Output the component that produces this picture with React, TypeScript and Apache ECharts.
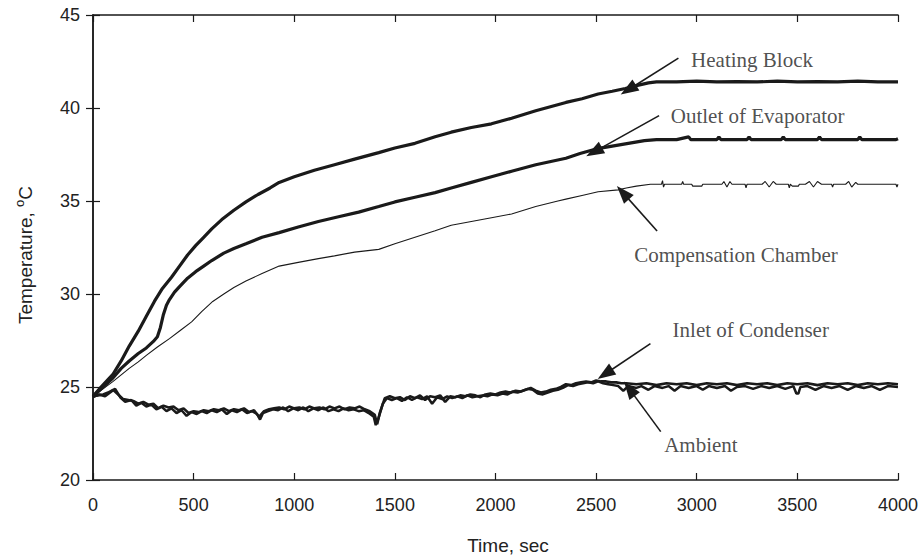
import React, { useEffect, useRef } from "react";
import * as echarts from "echarts";

// ---- axis settings ----
const xMin = 0, xMax = 4000, xStep = 500;
const yMin = 20, yMax = 45, yStep = 5;
const xTitle = "Time, sec";
const yTitle = "Temperature, {sup|o}C";

// ---- series data [time (s), temperature (°C)] ----
const heatingBlock: number[][] = [
  [0, 24.5], [40, 25.0], [100, 25.7], [140, 26.4], [180, 27.2], [225, 28.0], [265, 28.8], [305, 29.6],
  [345, 30.3], [390, 30.9], [430, 31.5], [470, 32.1], [510, 32.6], [550, 33.05], [590, 33.5], [640, 34.0],
  [700, 34.5], [760, 34.95], [820, 35.35], [880, 35.7], [925, 36.0], [1000, 36.3], [1100, 36.65],
  [1200, 36.95], [1300, 37.25], [1420, 37.6], [1500, 37.85], [1600, 38.1], [1700, 38.45], [1780, 38.7],
  [1880, 38.95], [1980, 39.15], [2080, 39.45], [2200, 39.85], [2350, 40.3], [2430, 40.5], [2510, 40.75],
  [2580, 40.9], [2645, 41.05], [2700, 41.2], [2760, 41.35], [2800, 41.4], [2900, 41.4], [3000, 41.45],
  [3100, 41.4], [3200, 41.42], [3300, 41.4], [3400, 41.45], [3500, 41.4], [3600, 41.42], [3700, 41.4],
  [3800, 41.45], [3900, 41.4], [4000, 41.4],
];

const outletEvaporator: number[][] = [
  [0, 24.5], [50, 25.0], [100, 25.5], [140, 26.0], [180, 26.4], [225, 26.8], [265, 27.1], [300, 27.45],
  [320, 27.7], [335, 28.2], [350, 28.9], [365, 29.4], [380, 29.7], [405, 30.1], [430, 30.4], [470, 30.85],
  [510, 31.2], [550, 31.5], [590, 31.8], [650, 32.2], [700, 32.45], [760, 32.7], [840, 33.05], [925, 33.3],
  [1020, 33.6], [1120, 33.9], [1220, 34.15], [1320, 34.4], [1420, 34.7], [1500, 34.95], [1600, 35.2],
  [1700, 35.45], [1780, 35.7], [1880, 36.0], [1980, 36.3], [2080, 36.6], [2200, 36.95], [2350, 37.3],
  [2420, 37.55], [2500, 37.8], [2580, 37.95], [2660, 38.1], [2740, 38.25], [2800, 38.3], [2900, 38.3],
  [2960, 38.45], [2970, 38.3], [3100, 38.3], [3110, 38.45], [3120, 38.3], [3250, 38.3], [3260, 38.45],
  [3270, 38.3], [3420, 38.3], [3430, 38.45], [3440, 38.3], [3600, 38.3], [3610, 38.45], [3620, 38.3],
  [3800, 38.3], [3810, 38.45], [3820, 38.3], [3990, 38.3], [4000, 38.35],
];

const compensationChamber: number[][] = [
  [0, 24.5], [50, 24.9], [100, 25.3], [140, 25.65], [180, 26.0], [225, 26.35], [265, 26.7], [320, 27.15],
  [380, 27.6], [435, 28.05], [490, 28.5], [540, 29.05], [595, 29.6], [650, 30.0], [700, 30.35], [760, 30.7],
  [840, 31.1], [925, 31.5], [1020, 31.7], [1120, 31.9], [1200, 32.05], [1300, 32.25], [1420, 32.4],
  [1500, 32.7], [1600, 33.05], [1700, 33.4], [1780, 33.7], [1880, 33.9], [1980, 34.1], [2080, 34.3],
  [2200, 34.7], [2310, 35.0], [2350, 35.1], [2430, 35.3], [2510, 35.5], [2610, 35.6], [2650, 35.7],
  [2700, 35.8], [2770, 35.9], [2825, 35.9], [2830, 36.1], [2835, 35.75], [2840, 35.9], [2925, 35.9],
  [2930, 36.05], [2935, 35.9], [2975, 35.9], [2980, 35.8], [3025, 35.8], [3030, 35.9], [3125, 35.9],
  [3135, 36.05], [3150, 35.75], [3165, 36.05], [3175, 35.9], [3240, 35.9], [3245, 35.7], [3250, 35.9],
  [3325, 35.9], [3340, 36.05], [3360, 35.75], [3380, 36.05], [3395, 35.9], [3455, 35.9], [3460, 35.7],
  [3465, 35.9], [3475, 35.8], [3505, 35.8], [3510, 35.9], [3540, 35.9], [3560, 36.05], [3580, 35.75],
  [3600, 36.05], [3620, 35.9], [3670, 35.9], [3675, 35.75], [3680, 35.9], [3740, 35.9], [3755, 36.05],
  [3770, 35.75], [3790, 36.0], [3800, 35.9], [3990, 35.9], [3995, 35.75], [4000, 35.9],
];

const inletCondenser: number[][] = [
  [0, 24.5], [25, 24.55], [50, 24.6], [75, 24.7], [100, 24.85], [125, 24.6], [150, 24.35], [175, 24.3],
  [200, 24.25], [225, 24.1], [250, 24.2], [275, 24.05], [300, 24.1], [325, 23.85], [350, 24.0], [375, 23.9],
  [400, 23.95], [425, 23.75], [450, 23.85], [475, 23.6], [500, 23.7], [525, 23.65], [550, 23.75], [575, 23.7],
  [600, 23.8], [625, 23.75], [650, 23.85], [675, 23.7], [700, 23.8], [725, 23.75], [750, 23.85], [775, 23.65],
  [800, 23.75], [825, 23.4], [850, 23.7], [875, 23.8], [900, 23.85], [925, 23.9], [950, 23.8], [975, 23.95],
  [1000, 23.85], [1025, 23.9], [1050, 23.8], [1075, 23.95], [1100, 23.85], [1125, 23.9], [1150, 23.8],
  [1175, 23.95], [1200, 23.85], [1225, 23.95], [1250, 23.8], [1275, 23.9], [1300, 23.85], [1325, 23.95],
  [1350, 23.8], [1375, 23.7], [1400, 23.5], [1412, 23.0], [1425, 23.6], [1450, 24.4], [1475, 24.5],
  [1500, 24.4], [1525, 24.45], [1550, 24.3], [1575, 24.5], [1600, 24.4], [1625, 24.55], [1650, 24.3],
  [1675, 24.5], [1700, 24.45], [1725, 24.55], [1750, 24.2], [1775, 24.5], [1800, 24.45], [1825, 24.55],
  [1850, 24.5], [1875, 24.6], [1900, 24.55], [1925, 24.45], [1950, 24.6], [1975, 24.65], [2000, 24.6],
  [2025, 24.7], [2050, 24.75], [2075, 24.7], [2100, 24.8], [2125, 24.75], [2150, 24.85], [2175, 24.95],
  [2200, 24.8], [2225, 24.7], [2250, 24.75], [2275, 24.85], [2300, 24.9], [2325, 25.0], [2350, 25.15],
  [2375, 25.1], [2400, 25.2], [2425, 25.25], [2450, 25.3], [2475, 25.25], [2500, 25.35], [2525, 25.3],
  [2550, 25.3], [2575, 25.25], [2600, 25.25], [2625, 25.2], [2650, 25.2], [2700, 25.15], [2750, 25.2],
  [2800, 25.1], [2850, 25.2], [2900, 25.15], [2950, 25.2], [3000, 25.1], [3050, 25.2], [3100, 25.15],
  [3150, 25.2], [3200, 25.1], [3250, 25.2], [3300, 25.15], [3350, 25.2], [3400, 25.1], [3450, 25.2],
  [3500, 25.15], [3550, 25.2], [3600, 25.1], [3650, 25.2], [3700, 25.15], [3750, 25.2], [3800, 25.1],
  [3850, 25.2], [3900, 25.15], [3950, 25.2], [4000, 25.15],
];

const ambient: number[][] = [
  [0, 24.45], [30, 24.6], [60, 24.5], [90, 24.75], [110, 24.9], [135, 24.45], [160, 24.2], [190, 24.3],
  [215, 24.0], [240, 24.15], [265, 23.95], [290, 24.05], [315, 23.8], [340, 23.95], [365, 23.7], [390, 23.85],
  [415, 23.6], [440, 23.75], [465, 23.45], [490, 23.65], [515, 23.55], [540, 23.7], [565, 23.6], [590, 23.75],
  [615, 23.65], [640, 23.8], [665, 23.55], [690, 23.75], [715, 23.65], [740, 23.8], [765, 23.6], [790, 23.7],
  [815, 23.55], [830, 23.25], [845, 23.6], [870, 23.7], [895, 23.8], [920, 23.75], [945, 23.9], [970, 23.7],
  [995, 23.85], [1020, 23.75], [1045, 23.9], [1070, 23.7], [1095, 23.85], [1120, 23.75], [1145, 23.9],
  [1170, 23.7], [1195, 23.8], [1220, 23.7], [1245, 23.85], [1270, 23.75], [1295, 23.8], [1320, 23.7],
  [1345, 23.75], [1370, 23.6], [1395, 23.4], [1405, 22.95], [1418, 23.3], [1440, 24.1], [1460, 24.4],
  [1485, 24.3], [1510, 24.4], [1535, 24.25], [1560, 24.45], [1585, 24.3], [1610, 24.45], [1635, 24.35],
  [1660, 24.5], [1685, 24.1], [1710, 24.45], [1735, 24.35], [1760, 24.5], [1785, 24.4], [1810, 24.5],
  [1835, 24.4], [1860, 24.55], [1885, 24.45], [1910, 24.5], [1935, 24.55], [1960, 24.5], [1985, 24.6],
  [2010, 24.55], [2035, 24.65], [2060, 24.6], [2085, 24.75], [2110, 24.7], [2135, 24.8], [2160, 24.9],
  [2185, 24.85], [2210, 24.65], [2235, 24.6], [2260, 24.7], [2285, 24.8], [2310, 24.85], [2335, 24.95],
  [2360, 25.1], [2385, 25.05], [2410, 25.15], [2435, 25.2], [2460, 25.25], [2485, 25.2], [2510, 25.3],
  [2535, 25.2], [2560, 25.15], [2585, 25.1], [2610, 25.05], [2635, 24.8], [2660, 25.05], [2700, 24.95],
  [2725, 25.05], [2760, 24.85], [2790, 25.05], [2830, 24.95], [2860, 25.05], [2890, 24.8], [2920, 25.05],
  [2960, 24.95], [3000, 25.05], [3030, 24.85], [3060, 25.05], [3100, 24.95], [3140, 25.05], [3170, 24.8],
  [3200, 25.0], [3240, 25.05], [3280, 24.9], [3320, 25.05], [3360, 24.95], [3400, 25.05], [3440, 24.9],
  [3480, 25.05], [3495, 24.65], [3505, 24.65], [3515, 25.0], [3550, 25.05], [3590, 24.85], [3630, 25.05],
  [3670, 24.95], [3710, 25.05], [3750, 24.85], [3790, 25.05], [3830, 24.95], [3870, 25.05], [3910, 24.85],
  [3950, 25.05], [4000, 25.0],
];

// ---- annotations: label, text anchor [t, T], arrow tail [t, T], arrow tip [t, T] ----
const annotationLabels = ["Heating Block", "Outlet of Evaporator", "Compensation Chamber", "Inlet of Condenser", "Ambient"];
const annotationText: number[][] = [[2972, 42.59], [2871, 39.57], [2689, 32.09], [2880, 28.05], [2838, 21.89]];
const arrowTail: number[][] = [[2909, 42.68], [2813, 39.59], [2803, 33.39], [2770, 27.33], [2821, 22.6]];
const arrowTip: number[][] = [[2660, 40.98], [2490, 37.64], [2633, 35.45], [2545, 25.7], [2665, 24.9]];

const INK = "#1a1a1a";
const SANS = "Liberation Sans, Arial, sans-serif";
const SERIF = "Liberation Serif, Times New Roman, serif";

export default function App() {
  const ref = useRef<HTMLDivElement>(null);
  useEffect(() => {
    document.body.style.margin = "0";
    if (!ref.current) return;
    const chart = echarts.init(ref.current, null, { renderer: "svg" });
    const axisLine = { show: true, lineStyle: { color: INK, width: 1.5 } };
    const axisTick = { show: true, inside: true, length: 7, lineStyle: { color: INK, width: 1.2 } };
    const lineSeries = (name: string, data: number[][], width: number) => ({
      name,
      type: "line",
      data,
      showSymbol: false,
      symbol: "none",
      lineStyle: { color: INK, width },
      silent: true,
      z: 3,
    });
    chart.setOption({
      animation: false,
      backgroundColor: "#ffffff",
      grid: { left: 93, right: 22, top: 15, bottom: 78, containLabel: false },
      xAxis: [
        {
          type: "value", min: xMin, max: xMax, interval: xStep,
          axisLine, axisTick, splitLine: { show: false },
          axisLabel: { margin: 16, fontSize: 18, color: "#222", fontFamily: SANS, formatter: (v: number) => String(v) },
          name: xTitle, nameLocation: "middle", nameGap: 56,
          nameTextStyle: { fontSize: 19, color: "#222", fontFamily: SANS, padding: [0, 0, 0, 25] },
        },
        {
          type: "value", position: "top", min: xMin, max: xMax, interval: xStep,
          axisLine, axisTick, axisLabel: { show: false }, splitLine: { show: false },
        },
      ],
      yAxis: [
        {
          type: "value", min: yMin, max: yMax, interval: yStep,
          axisLine, axisTick, splitLine: { show: false },
          axisLabel: { margin: 13, fontSize: 18, color: "#222", fontFamily: SANS },
          name: yTitle, nameLocation: "middle", nameGap: 56, nameRotate: 90,
          nameTextStyle: {
            fontSize: 19, color: "#222", fontFamily: SANS,
            lineHeight: 24, padding: [0, 15, 0, 0],
            rich: { sup: { fontSize: 13, color: "#222", verticalAlign: "top", lineHeight: 24, fontFamily: SANS } },
          },
        },
        {
          type: "value", position: "right", min: yMin, max: yMax, interval: yStep,
          axisLine, axisTick, axisLabel: { show: false }, splitLine: { show: false },
        },
      ],
      series: [
        lineSeries("Ambient", ambient, 2.5),
        lineSeries("Inlet of Condenser", inletCondenser, 2.6),
        lineSeries("Compensation Chamber", compensationChamber, 1.1),
        lineSeries("Outlet of Evaporator", outletEvaporator, 3.2),
        lineSeries("Heating Block", heatingBlock, 3.2),
        {
          name: "annotations",
          type: "scatter",
          data: annotationText.map((p, i) => ({ value: p, name: annotationLabels[i] })),
          symbolSize: 0,
          silent: true,
          z: 5,
          label: {
            show: true, position: "right", distance: 0, formatter: "{b}",
            fontSize: 21, color: "#222", fontFamily: SERIF,
          },
          markLine: {
            silent: true,
            symbol: ["none", "triangle"],
            symbolSize: [13, 18],
            label: { show: false },
            lineStyle: { color: INK, width: 1.6, type: "solid" },
            emphasis: { disabled: true },
            data: arrowTail.map((p, i) => [{ coord: p }, { coord: arrowTip[i] }]),
          },
        },
      ],
    });
    return () => chart.dispose();
  }, []);
  return <div ref={ref} style={{ width: 921, height: 560 }} />;
}
